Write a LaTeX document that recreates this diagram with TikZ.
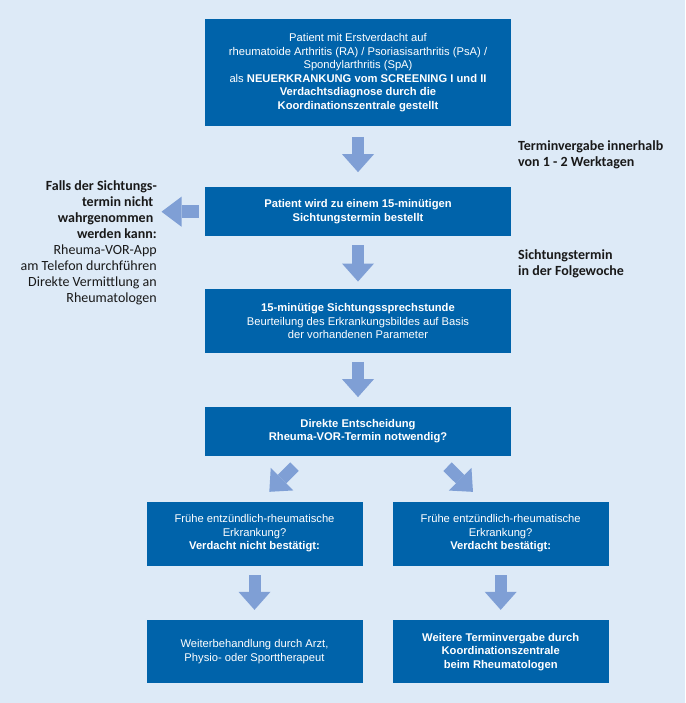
\documentclass[tikz,border=0pt]{standalone}
\usepackage{fontspec}
\setmainfont{Liberation Sans}
\newfontfamily\calibri{Carlito}
\usetikzlibrary{arrows.meta,calc}
\definecolor{boxBlue}{RGB}{0,99,170}
\definecolor{arrowBlue}{RGB}{127,159,213}
\definecolor{bgBlue}{RGB}{221,234,247}

\tikzset{
  box/.style={rectangle, fill=boxBlue, text=white, align=center, inner sep=0pt,
    minimum width=306pt, font=\fontsize{11.2}{13.5}\selectfont},
  smallbox/.style={box, minimum width=216pt},
  bigarrow/.style={arrowBlue, line width=12pt,
    -{Triangle[length=18pt,width=32pt,line width=0pt]}},
  side/.style={inner sep=0pt, text=black!90, font=\calibri\fontsize{14}{16.1}\selectfont}
}

\begin{document}
\begin{tikzpicture}[x=1pt,y=-1pt]
	% background
	\fill[bgBlue] (0,0) rectangle (685,703);

	% main column
	\node[box, minimum height=106.7pt] (screen) at (358,72.4) {Patient mit Erstverdacht auf\\ rheumatoide Arthritis (RA) / Psoriasisarthritis (PsA) /\\ Spondylarthritis (SpA)\\ als \textbf{NEUERKRANKUNG vom SCREENING I und II}\\ \textbf{Verdachtsdiagnose durch die}\\ \textbf{Koordinationszentrale gestellt}};
	\node[box, minimum height=48.7pt] (termin) at (358,211.7) {\textbf{Patient wird zu einem 15-minütigen}\\ \textbf{Sichtungstermin bestellt}};
	\node[box, minimum height=64.3pt] (sprech) at (358,321.2) {\textbf{15-minütige Sichtungssprechstunde}\\ Beurteilung des Erkrankungsbildes auf Basis\\ der vorhandenen Parameter};
	\node[box, minimum height=49pt] (entsch) at (358,431.2) {\textbf{Direkte Entscheidung}\\ \textbf{Rheuma-VOR-Termin notwendig?}};

	% two branches
	\node[smallbox, minimum height=63.8pt] (nein) at (254.5,533.6) {Frühe entzündlich-rheumatische\\ Erkrankung?\\ \textbf{Verdacht nicht bestätigt:}};
	\node[smallbox, minimum height=63.8pt] (ja) at (500.7,533.6) {Frühe entzündlich-rheumatische\\ Erkrankung?\\ \textbf{Verdacht bestätigt:}};
	\node[smallbox, minimum height=63.3pt] (weiter) at (254.5,651.7) {Weiterbehandlung durch Arzt,\\ Physio- oder Sporttherapeut};
	\node[smallbox, minimum height=63.3pt] (rheuma) at (500.7,651.7) {\textbf{Weitere Terminvergabe durch}\\ \textbf{Koordinationszentrale}\\ \textbf{beim Rheumatologen}};

	% side notes
	\node[side, anchor=north east, align=right] (falls) at (157,180) {\textbf{Falls der Sichtungs-}\\ \textbf{termin nicht}\kern3.5pt\\ \textbf{wahrgenommen}\kern3.5pt\\ \textbf{werden kann:}\\ Rheuma-VOR-App\\ am Telefon durchführen\\ Direkte Vermittlung an\\ Rheumatologen};
	\node[side, anchor=north west, align=left, font=\calibri\fontsize{14}{16.7}\selectfont] (vergabe) at (518,140) {\textbf{Terminvergabe innerhalb}\\ \textbf{von 1 - 2 Werktagen}};
	\node[side, anchor=north west, align=left, font=\calibri\fontsize{14}{16}\selectfont] (folge) at (518,249) {\textbf{Sichtungstermin}\\ \textbf{in der Folgewoche}};

	% block arrows
	\draw[bigarrow, shorten <=11pt, shorten >=15pt] (screen) -- (termin);
	\draw[bigarrow, shorten <=9pt, shorten >=7.3pt] (termin) -- (sprech);
	\draw[bigarrow, shorten <=8.4pt, shorten >=9.4pt] (sprech) -- (entsch);
	\draw[bigarrow, line width=13pt, -{Triangle[length=20pt,width=30pt,line width=0pt]}, shorten <=6pt, shorten >=4.5pt] (termin.west) -- (termin.west -| falls.east);
	\draw[bigarrow, shorten <=15.3pt, shorten >=13.7pt] ($(entsch.south)+(-52.7,0)$) -- ($(nein.north)+(5.1,0)$);
	\draw[bigarrow, shorten <=15.3pt, shorten >=13.7pt] ($(entsch.south)+(78.7,0)$) -- ($(ja.north)+(-18,0)$);
	\draw[bigarrow, shorten <=9.5pt, shorten >=10pt] (nein) -- (weiter);
	\draw[bigarrow, shorten <=9.5pt, shorten >=10pt] (ja) -- (rheuma);
\end{tikzpicture}
\end{document}
